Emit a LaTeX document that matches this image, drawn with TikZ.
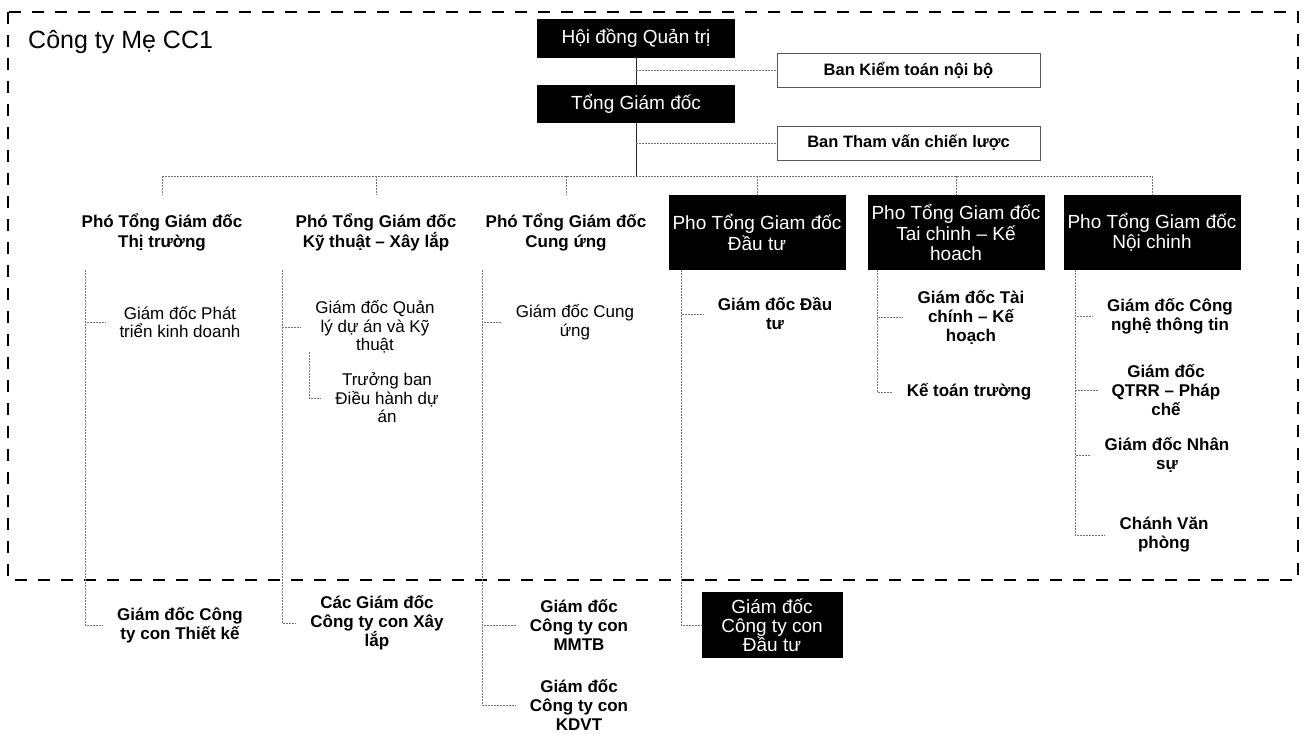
\documentclass[tikz,border=0pt]{standalone}
\usepackage{fontspec}
\setmainfont{Liberation Sans}
\usetikzlibrary{positioning}

\begin{document}
\begin{tikzpicture}[x=1pt, y=-1pt,
    dark/.style={fill=black, text=white, inner sep=2pt, align=center,
      font=\fontsize{19}{20.5}\selectfont},
    head/.style={minimum width=177pt, minimum height=75pt, inner sep=2pt, align=center},
    lead/.style={head, font=\bfseries\fontsize{17}{19.5}\selectfont},
    side/.style={draw=black!65, line width=0.7pt, minimum width=263pt, minimum height=34pt,
      font=\bfseries\fontsize{16.5}{18}\selectfont},
    unit/.style={align=center, inner xsep=14pt, inner ysep=2pt,
      font=\bfseries\fontsize{17}{19}\selectfont},
    unitlight/.style={unit, font=\fontsize{17}{18.5}\selectfont},
    trunk/.style={draw=black!85, line width=0.7pt},
    tie/.style={draw=black!55, line width=0.6pt, dash pattern=on 2pt off 1pt},
    frame/.style={draw=black, line width=2.5pt, dash pattern=on 12pt off 11pt}]

    \useasboundingbox (0,0) rectangle (1311,734);
    \draw[frame] (8,12) rectangle (1298,580);
    \node[anchor=base west, inner sep=0pt, font=\fontsize{25}{25}\selectfont] (title) at (28,48) {Công ty Mẹ CC1};

    % top of the chart
    \node[dark, minimum width=198pt, minimum height=39pt] (hdqt) at (636,38.5) {Hội đồng Quản trị};
    \node[dark, minimum width=198pt, minimum height=38pt] (tgd) at (636,104) {Tổng Giám đốc};
    \node[side] (bkt) at (908.5,70.5) {Ban Kiểm toán nội bộ};
    \node[side] (btv) at (908.5,143) {Ban Tham vấn chiến lược};
    \coordinate (bus) at (636,176);

    % deputies
    \node[lead] (ptt) at (162,232.5) {Phó Tổng Giám đốc\\Thị trường};
    \node[lead] (pkt) at (376,232.5) {Phó Tổng Giám đốc\\Kỹ thuật – Xây lắp};
    \node[lead] (pcu) at (566,232.5) {Phó Tổng Giám đốc\\Cung ứng};
    \node[head, dark] (pdt) at (757,232.5) {Pho Tổng Giam đốc\\Đầu tư};
    \node[head, dark] (ptc) at (956,232.5) {Pho Tổng Giam đốc\\Tai chinh – Kế\\hoach};
    \node[head, dark] (pnc) at (1152,232.5) {Pho Tổng Giam đốc\\Nội chinh};

    \coordinate (v1) at (85,270);
    \coordinate (v2) at (282,270);
    \coordinate (v2b) at (309,352);
    \coordinate (v3) at (482,270);
    \coordinate (v4) at (681,270);
    \coordinate (v5) at (877,270);
    \coordinate (v6) at (1075,270);

    % directors
    \node[unitlight] (gdpt) at (180,322) {Giám đốc Phát\\triển kinh doanh};
    \node[unit] (cttk) at (180,625) {Giám đốc Công\\ty con Thiết kế};
    \node[unitlight] (gdql) at (375,327) {Giám đốc Quản\\lý dự án và Kỹ\\thuật};
    \node[unitlight] (tbdh) at (387,398) {Trưởng ban\\Điều hành dự\\án};
    \node[unit] (ctxl) at (377,623) {Các Giám đốc\\Công ty con Xây\\lắp};
    \node[unitlight] (gdcu) at (575,322) {Giám đốc Cung\\ứng};
    \node[unit] (ctmm) at (579,625) {Giám đốc\\Công ty con\\MMTB};
    \node[unit] (ctkd) at (579,705) {Giám đốc\\Công ty con\\KDVT};
    \node[unit] (gddt) at (775,314) {Giám đốc Đầu\\tư};
    \node[dark, minimum width=141pt, minimum height=66pt,
      font=\fontsize{19}{19}\selectfont] (ctdt) at (772,625) {Giám đốc\\Công ty con\\Đầu tư};
    \node[unit] (gdtc) at (971,317) {Giám đốc Tài\\chính – Kế\\hoạch};
    \node[unit] (ktt) at (969,392) {Kế toán trường};
    \node[unit] (gdcn) at (1170,316) {Giám đốc Công\\nghệ thông tin};
    \node[unit] (gdqt) at (1166,390) {Giám đốc\\QTRR – Pháp\\chế};
    \node[unit] (gdns) at (1167,455) {Giám đốc Nhân\\sự};
    \node[unit] (cvp) at (1164,535) {Chánh Văn\\phòng};

    % connectors
    \draw[trunk] (hdqt.south) -- (tgd.north);
    \draw[trunk] (tgd.south) -- (bus);
    \draw[tie] (hdqt.south |- bkt) -- (bkt.west);
    \draw[tie] (tgd.south |- btv) -- (btv.west);
    \draw[tie] (ptt.north |- bus) -- (pnc.north |- bus);
    \foreach \n in {ptt,pkt,pcu,pdt,ptc,pnc}
      \draw[tie] (\n.north |- bus) -- (\n.north);
    \path[tie]
      (v1) edge[to path={|- (\tikztotarget)}] (gdpt.west)
           edge[to path={|- (\tikztotarget)}] (cttk.west)
      (v2) edge[to path={|- (\tikztotarget)}] (gdql.west)
           edge[to path={|- (\tikztotarget)}] (ctxl.west)
      (v2b) edge[to path={|- (\tikztotarget)}] (tbdh.west)
      (v3) edge[to path={|- (\tikztotarget)}] (gdcu.west)
           edge[to path={|- (\tikztotarget)}] (ctmm.west)
           edge[to path={|- (\tikztotarget)}] (ctkd.west)
      (v4) edge[to path={|- (\tikztotarget)}] (gddt.west)
           edge[to path={|- (\tikztotarget)}] (ctdt.west)
      (v5) edge[to path={|- (\tikztotarget)}] (gdtc.west)
           edge[to path={|- (\tikztotarget)}] (ktt.west)
      (v6) edge[to path={|- (\tikztotarget)}] (gdcn.west)
           edge[to path={|- (\tikztotarget)}] (gdqt.west)
           edge[to path={|- (\tikztotarget)}] (gdns.west)
           edge[to path={|- (\tikztotarget)}] (cvp.west);
\end{tikzpicture}
\end{document}
